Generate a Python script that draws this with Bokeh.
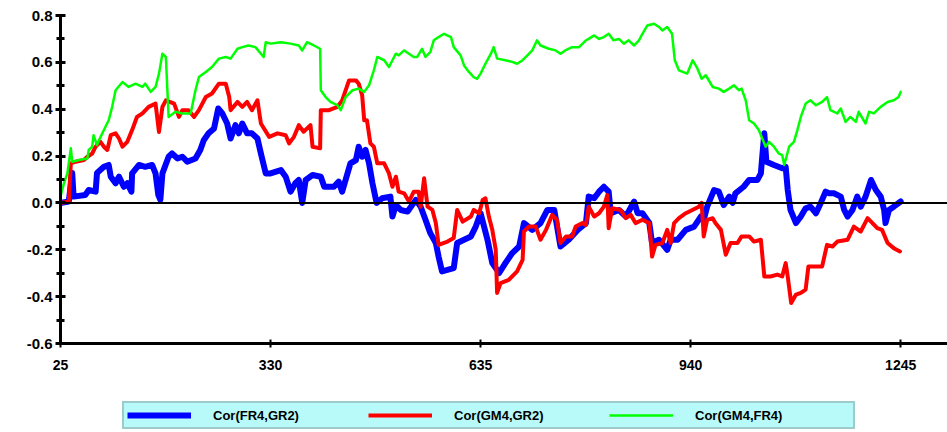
from bokeh.plotting import figure
from bokeh.layouts import column
from bokeh.models import (Range1d, FixedTicker, PrintfTickFormatter, Span,
                          Legend, LegendItem)
from bokeh.embed import file_html
from bokeh.resources import INLINE

x_ticks = [25, 330, 635, 940, 1245]
y_ticks = [-0.6, -0.4, -0.2, 0.0, 0.2, 0.4, 0.6, 0.8]
y_minor = [-0.5, -0.3, -0.1, 0.1, 0.3, 0.5, 0.7]

labels = ["Cor(FR4,GR2)", "Cor(GM4,GR2)", "Cor(GM4,FR4)"]
colors = ["#0000ff", "#ff0000", "#00ff00"]
widths = [6, 4, 2.5]

fr4_gr2_x = [25, 37, 42, 44, 61, 66, 76, 78, 88, 95,
             98, 105, 110, 117, 122, 128, 129, 139, 148, 158,
             163, 167, 170, 173, 182, 187, 195, 202, 209, 221,
             228, 233, 240, 248, 254, 260, 267, 272, 279, 284,
             289, 296, 303, 311, 316, 323, 330, 345, 352, 359,
             366, 371, 376, 381, 391, 403, 408, 422, 429, 434,
             439, 446, 454, 458, 463, 468, 473, 478, 484, 492,
             504, 507, 512, 519, 529, 541, 548, 555, 562, 570,
             574, 579, 596, 601, 611, 621, 628, 635, 640, 645,
             652, 662, 671, 681, 691, 698, 710, 722, 732, 742,
             751, 763, 776, 788, 792, 800, 807, 814, 821, 824,
             836, 846, 858, 863, 870, 880, 884, 894, 906, 911,
             921, 933, 945, 955, 959, 964, 974, 981, 988, 996,
             1001, 1005, 1017, 1025, 1037, 1042, 1044, 1047, 1050, 1061,
             1073, 1078, 1081, 1085, 1093, 1100, 1107, 1114, 1122, 1129,
             1136, 1141, 1148, 1158, 1163, 1168, 1175, 1182, 1187, 1194,
             1202, 1209, 1216, 1221, 1223, 1228, 1235, 1245]
fr4_gr2_y = [0.0, 0.006, 0.128, 0.027, 0.034, 0.055, 0.048, 0.128, 0.154, 0.162,
             0.112, 0.084, 0.112, 0.069, 0.084, 0.048, 0.126, 0.162, 0.154, 0.162,
             0.126, 0.034, 0.013, 0.126, 0.197, 0.211, 0.190, 0.197, 0.176, 0.190,
             0.226, 0.268, 0.297, 0.318, 0.403, 0.382, 0.339, 0.275, 0.332, 0.297,
             0.339, 0.297, 0.297, 0.275, 0.211, 0.126, 0.126, 0.140, 0.112, 0.048,
             0.084, 0.098, 0.0, 0.098, 0.119, 0.112, 0.069, 0.069, 0.091, 0.048,
             0.098, 0.169, 0.183, 0.240, 0.197, 0.226, 0.169, 0.084, 0.0, 0.020,
             0.027, -0.058, -0.009, -0.030, -0.037, 0.013, -0.016, -0.072, -0.129, -0.171,
             -0.229, -0.292, -0.278, -0.171, -0.157, -0.143, -0.101, -0.044, -0.101, -0.157,
             -0.257, -0.299, -0.257, -0.214, -0.186, -0.086, -0.115, -0.086, -0.030, -0.030,
             -0.186, -0.157, -0.115, -0.086, 0.027, 0.020, 0.048, 0.069, 0.048, -0.044,
             -0.030, -0.058, 0.006, -0.044, -0.044, -0.086, -0.171, -0.157, -0.200, -0.157,
             -0.157, -0.115, -0.101, -0.058, -0.072, -0.016, 0.055, 0.048, -0.009, 0.027,
             0.0, 0.041, 0.069, 0.098, 0.098, 0.126, 0.197, 0.297, 0.176, 0.162,
             0.148, 0.154, 0.055, -0.030, -0.086, -0.058, -0.023, -0.016, -0.044, 0.0,
             0.048, 0.041, 0.041, 0.027, -0.030, -0.058, -0.030, 0.027, -0.016, 0.027,
             0.098, 0.055, 0.027, -0.030, -0.086, -0.030, -0.016, 0.006]

gm4_gr2_x = [25, 37, 40, 47, 59, 64, 71, 76, 83, 88,
             93, 98, 105, 110, 115, 122, 129, 136, 144, 153,
             163, 168, 173, 178, 190, 197, 202, 211, 219, 226,
             236, 245, 255, 265, 270, 272, 282, 289, 296, 303,
             311, 316, 328, 340, 352, 357, 364, 371, 378, 388,
             391, 402, 403, 415, 427, 434, 444, 454, 458, 463,
             466, 470, 475, 480, 485, 495, 502, 507, 512, 516,
             524, 531, 538, 545, 548, 553, 558, 565, 570, 574,
             587, 596, 601, 609, 621, 625, 633, 638, 642, 647,
             652, 657, 659, 664, 676, 688, 696, 698, 705, 715,
             722, 730, 739, 746, 751, 759, 768, 773, 783, 788,
             792, 800, 807, 814, 819, 821, 826, 838, 846, 853,
             860, 870, 880, 884, 889, 899, 906, 911, 916, 923,
             933, 952, 956, 959, 964, 972, 976, 984, 991, 998,
             1008, 1014, 1025, 1032, 1042, 1047, 1056, 1066, 1073, 1078,
             1081, 1086, 1093, 1100, 1107, 1111, 1122, 1131, 1138, 1146,
             1153, 1168, 1177, 1187, 1197, 1204, 1211, 1218, 1226, 1235,
             1244]
gm4_gr2_y = [0.0, 0.006, 0.169, 0.176, 0.183, 0.197, 0.211, 0.240, 0.261, 0.240,
             0.226, 0.289, 0.297, 0.275, 0.240, 0.261, 0.311, 0.367, 0.382, 0.410,
             0.424, 0.303, 0.410, 0.438, 0.424, 0.367, 0.396, 0.396, 0.367, 0.396,
             0.452, 0.467, 0.509, 0.509, 0.452, 0.396, 0.431, 0.410, 0.431, 0.396,
             0.438, 0.339, 0.282, 0.297, 0.289, 0.254, 0.282, 0.332, 0.304, 0.332,
             0.240, 0.233, 0.396, 0.396, 0.410, 0.438, 0.523, 0.523, 0.509, 0.460,
             0.353, 0.353, 0.254, 0.240, 0.169, 0.169, 0.126, 0.069, 0.112, 0.048,
             0.041, 0.006, 0.048, 0.048, -0.016, 0.105, -0.016, -0.030, -0.086, -0.179,
             -0.165, -0.150, -0.030, -0.080, -0.058, -0.030, -0.044, 0.013, 0.020, -0.058,
             -0.115, -0.200, -0.384, -0.342, -0.328, -0.292, -0.243, -0.122, -0.101, -0.101,
             -0.157, -0.115, -0.051, -0.072, -0.171, -0.143, -0.143, -0.101, -0.086, -0.094,
             -0.016, -0.058, -0.044, -0.016, 0.034, -0.108, -0.023, -0.030, -0.065, -0.051,
             -0.086, -0.072, -0.086, -0.229, -0.179, -0.171, -0.115, -0.171, -0.086, -0.065,
             -0.044, -0.016, 0.0, -0.143, -0.072, -0.065, -0.086, -0.115, -0.221, -0.171,
             -0.171, -0.143, -0.143, -0.165, -0.157, -0.314, -0.314, -0.306, -0.314, -0.257,
             -0.314, -0.427, -0.391, -0.384, -0.370, -0.271, -0.271, -0.271, -0.179, -0.186,
             -0.165, -0.157, -0.101, -0.122, -0.065, -0.086, -0.108, -0.115, -0.171, -0.193,
             -0.207]

gm4_fr4_x = [25, 30, 35, 40, 42, 52, 64, 66, 71, 73,
             78, 81, 88, 95, 100, 105, 115, 124, 134, 144,
             148, 156, 163, 168, 173, 178, 182, 192, 202, 214,
             221, 226, 236, 245, 255, 265, 272, 282, 289, 298,
             308, 320, 323, 330, 345, 359, 371, 376, 383, 393,
             402, 403, 410, 417, 427, 432, 439, 449, 458, 466,
             473, 480, 485, 495, 502, 507, 512, 516, 524, 531,
             538, 543, 550, 555, 562, 567, 574, 582, 592, 596,
             606, 611, 618, 625, 630, 635, 642, 650, 654, 659,
             671, 681, 688, 696, 703, 710, 717, 722, 734, 744,
             751, 758, 768, 778, 788, 792, 800, 807, 814, 821,
             828, 836, 843, 850, 858, 865, 870, 877, 887, 894,
             899, 906, 913, 917, 923, 935, 943, 950, 956, 962,
             972, 981, 988, 996, 1003, 1010, 1014, 1020, 1025, 1032,
             1039, 1044, 1049, 1054, 1061, 1068, 1073, 1076, 1083, 1090,
             1095, 1100, 1107, 1114, 1122, 1131, 1138, 1143, 1153, 1158,
             1165, 1172, 1180, 1184, 1194, 1199, 1206, 1216, 1226, 1235,
             1242, 1245]
gm4_fr4_y = [0.027, 0.084, 0.126, 0.233, 0.176, 0.183, 0.190, 0.226, 0.240, 0.289,
             0.247, 0.268, 0.311, 0.353, 0.410, 0.481, 0.516, 0.495, 0.509, 0.495,
             0.509, 0.474, 0.495, 0.552, 0.637, 0.623, 0.367, 0.389, 0.382, 0.382,
             0.481, 0.537, 0.559, 0.580, 0.616, 0.623, 0.616, 0.658, 0.665, 0.672,
             0.665, 0.623, 0.686, 0.680, 0.686, 0.680, 0.672, 0.651, 0.686, 0.672,
             0.658, 0.481, 0.452, 0.431, 0.417, 0.396, 0.452, 0.481, 0.488, 0.474,
             0.502, 0.566, 0.623, 0.609, 0.580, 0.609, 0.637, 0.630, 0.651, 0.637,
             0.623, 0.623, 0.658, 0.623, 0.644, 0.694, 0.708, 0.722, 0.708, 0.665,
             0.630, 0.587, 0.559, 0.537, 0.530, 0.552, 0.594, 0.637, 0.665, 0.616,
             0.609, 0.602, 0.594, 0.609, 0.630, 0.651, 0.694, 0.672, 0.658, 0.651,
             0.637, 0.651, 0.665, 0.665, 0.694, 0.700, 0.715, 0.700, 0.708, 0.722,
             0.694, 0.700, 0.680, 0.694, 0.672, 0.694, 0.722, 0.757, 0.765, 0.751,
             0.736, 0.751, 0.722, 0.609, 0.566, 0.552, 0.609, 0.573, 0.530, 0.545,
             0.495, 0.488, 0.474, 0.488, 0.502, 0.481, 0.488, 0.438, 0.353, 0.339,
             0.311, 0.275, 0.240, 0.261, 0.240, 0.211, 0.204, 0.162, 0.240, 0.261,
             0.311, 0.367, 0.424, 0.438, 0.417, 0.431, 0.452, 0.396, 0.382, 0.403,
             0.346, 0.367, 0.346, 0.389, 0.339, 0.389, 0.382, 0.410, 0.431, 0.438,
             0.452, 0.474]

series_x = [fr4_gr2_x, gm4_gr2_x, gm4_fr4_x]
series_y = [fr4_gr2_y, gm4_gr2_y, gm4_fr4_y]

# ---- main chart ----
p = figure(width=947, height=395, output_backend="svg", toolbar_location=None,
           x_range=Range1d(25, 1313), y_range=Range1d(-0.6, 0.8),
           min_border_left=60, min_border_right=0, min_border_top=15,
           min_border_bottom=52)
p.outline_line_color = None
p.xgrid.visible = False
p.ygrid.visible = False

for xs, ys, c, w in zip(series_x, series_y, colors, widths):
    p.line(xs, ys, line_color=c, line_width=w, line_join="round", line_cap="round")

p.add_layout(Span(location=0, dimension="width", line_color="black",
                  line_width=2))

for ax in (p.xaxis[0], p.yaxis[0]):
    ax.axis_line_color = "black"
    ax.major_tick_line_color = "black"
    ax.major_label_text_font = "Liberation Sans"
    ax.major_label_text_font_style = "bold"
    ax.major_label_text_font_size = "15px"
    ax.major_label_text_color = "black"

p.yaxis.ticker = FixedTicker(ticks=y_ticks, minor_ticks=y_minor)
p.yaxis.formatter = PrintfTickFormatter(format="%.1f")
p.yaxis.axis_line_width = 3
p.yaxis.major_tick_line_width = 3
p.yaxis.minor_tick_line_width = 3
p.yaxis.minor_tick_line_color = "black"
p.yaxis.major_tick_in = 5
p.yaxis.major_tick_out = 5
p.yaxis.minor_tick_in = 4
p.yaxis.minor_tick_out = 4
p.yaxis.major_label_standoff = 3

p.xaxis.ticker = FixedTicker(ticks=x_ticks, minor_ticks=[])
p.xaxis.axis_line_width = 3
p.xaxis.major_tick_line_width = 2
p.xaxis.major_tick_in = 4
p.xaxis.major_tick_out = 4
p.xaxis.minor_tick_line_color = None
p.xaxis.major_label_standoff = 12
p.xaxis.major_label_text_font_size = "14px"

# ---- legend strip (series drawn out of view, only the legend shows) ----
q = figure(width=947, height=37, output_backend="svg", toolbar_location=None,
           x_range=Range1d(25, 1313), y_range=Range1d(5, 6),
           min_border=0)
q.outline_line_color = None
q.axis.visible = False
q.xgrid.visible = False
q.ygrid.visible = False

items = []
for xs, ys, lab, c, w in zip(series_x, series_y, labels, colors, widths):
    r = q.line(xs, ys, line_color=c, line_width=w)
    items.append(LegendItem(label=lab, renderers=[r]))

legend = Legend(items=items, orientation="horizontal", location=(62, 3),
                glyph_width=64, glyph_height=18, label_standoff=22,
                label_width=155, spacing=0, padding=3, margin=0,
                background_fill_color="#b8fafa", background_fill_alpha=1,
                border_line_color="#7f9b9b", border_line_width=2,
                label_text_font="Liberation Sans", label_text_font_style="bold",
                label_text_font_size="13px", label_text_color="black")
q.add_layout(legend, "center")

layout = column(p, q, spacing=0)
open("out.html", "w").write(file_html(layout, INLINE))
